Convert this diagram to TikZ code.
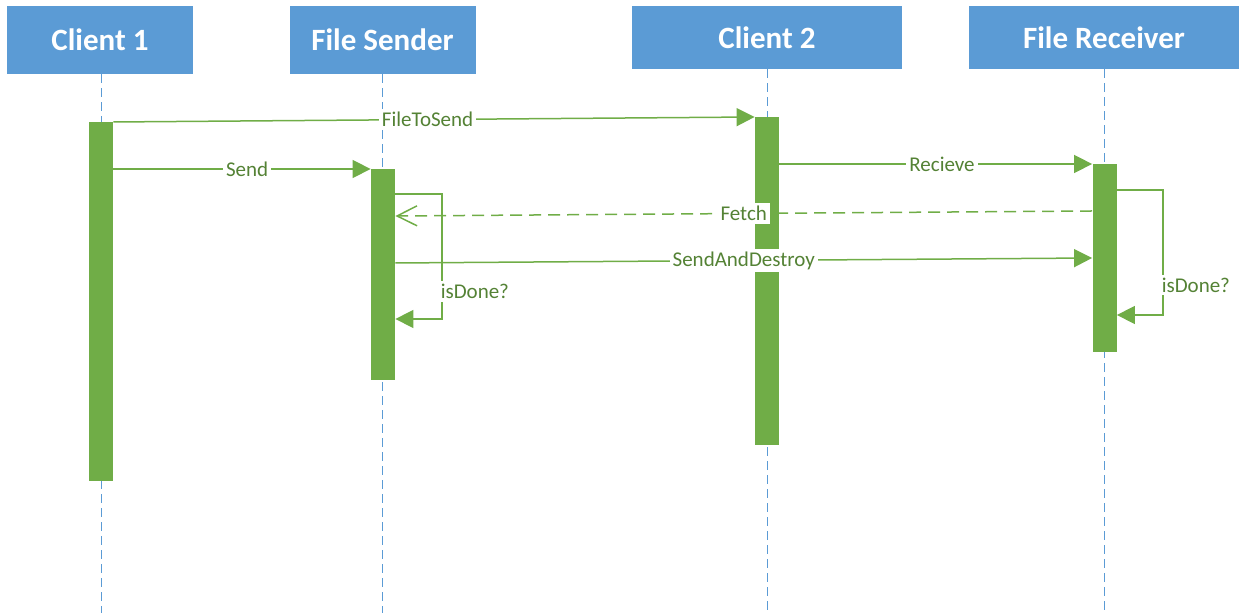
\documentclass[tikz,border=0pt]{standalone}
\usepackage{fontspec}
\setmainfont{Carlito}
\usetikzlibrary{arrows.meta}
\definecolor{hdblue}{HTML}{5B9BD5}
\definecolor{actgreen}{HTML}{70AD47}
\definecolor{txtgreen}{HTML}{548235}
\begin{document}
\begin{tikzpicture}[x=0.5pt,y=-0.5pt,
head node/.style={rectangle,fill=hdblue,text=white,inner sep=0pt,font=\fontsize{15.5}{18}\selectfont\bfseries},
bar node/.style={rectangle,fill=actgreen,minimum width=12pt,inner sep=0pt},
life/.style={hdblue,line width=0.5pt,dash pattern=on 4.5pt off 2.5pt},
msg/.style={actgreen,line width=0.75pt,-{Triangle[length=9pt,width=9pt]}},
ret/.style={actgreen,line width=0.75pt,dash pattern=on 6pt off 3.5pt,-{Straight Barb[length=10pt,width=10pt]}},
lbl/.style={fill=white,text=txtgreen,inner sep=1.5pt,font=\fontsize{10.5}{12}\selectfont}]
\useasboundingbox (0,0) rectangle (1239,613);
\begin{scope}
\node[head node,minimum width=93pt,minimum height=34pt] (c1) at (100,40) {Client 1};
\node[head node,minimum width=93pt,minimum height=34pt] (snd) at (382.5,40) {File Sender};
\node[head node,minimum width=135pt,minimum height=31.5pt] (c2) at (767,37.5) {Client 2};
\node[head node,minimum width=135pt,minimum height=31.5pt] (rcv) at (1104,37.5) {File Receiver};
\end{scope}
\begin{scope}
\draw[life] (c1.south) ++(1,0) -- (101,613);
\draw[life] (snd.south) -- (382.5,613);
\draw[life] (c2.south) -- (767,613);
\draw[life] (rcv.south) -- (1104,613);
\end{scope}
\begin{scope}
\node[bar node,minimum height=179.5pt] (a1) at (101,301.5) {};
\node[bar node,minimum height=105.5pt] (a2) at (383,274.5) {};
\node[bar node,minimum height=164pt] (a3) at (767,281) {};
\node[bar node,minimum height=94pt] (a4) at (1104.5,258) {};
\end{scope}
\begin{scope}
\draw[msg] (a1.east |- 0,122) -- node[lbl,pos=.49]{FileToSend} (a3.west |- 0,117);
\draw[msg] (a1.east |- 0,169) -- node[lbl,pos=.52]{Send} (a2.west |- 0,169);
\draw[msg] (a3.east |- 0,164) -- node[lbl,pos=.52]{Recieve} (a4.west |- 0,164);
\draw[ret] (a4.west |- 0,211) -- node[lbl]{Fetch} (a2.east |- 0,216);
\draw[msg] (a2.east |- 0,263) -- node[lbl]{SendAndDestroy} (a4.west |- 0,258);
%isDone loops
\draw[msg] (a2.east |- 0,194) -- (442,194) -- node[lbl,pos=.78,anchor=west,xshift=-2.5pt]{isDone?} (442,319) -- (a2.east |- 0,319);
\draw[msg] (a4.east |- 0,190) -- (1163,190) -- node[lbl,pos=.76,anchor=west,xshift=-2.5pt]{isDone?} (1163,315) -- (a4.east |- 0,315);
\end{scope}
\end{tikzpicture}
\end{document}
